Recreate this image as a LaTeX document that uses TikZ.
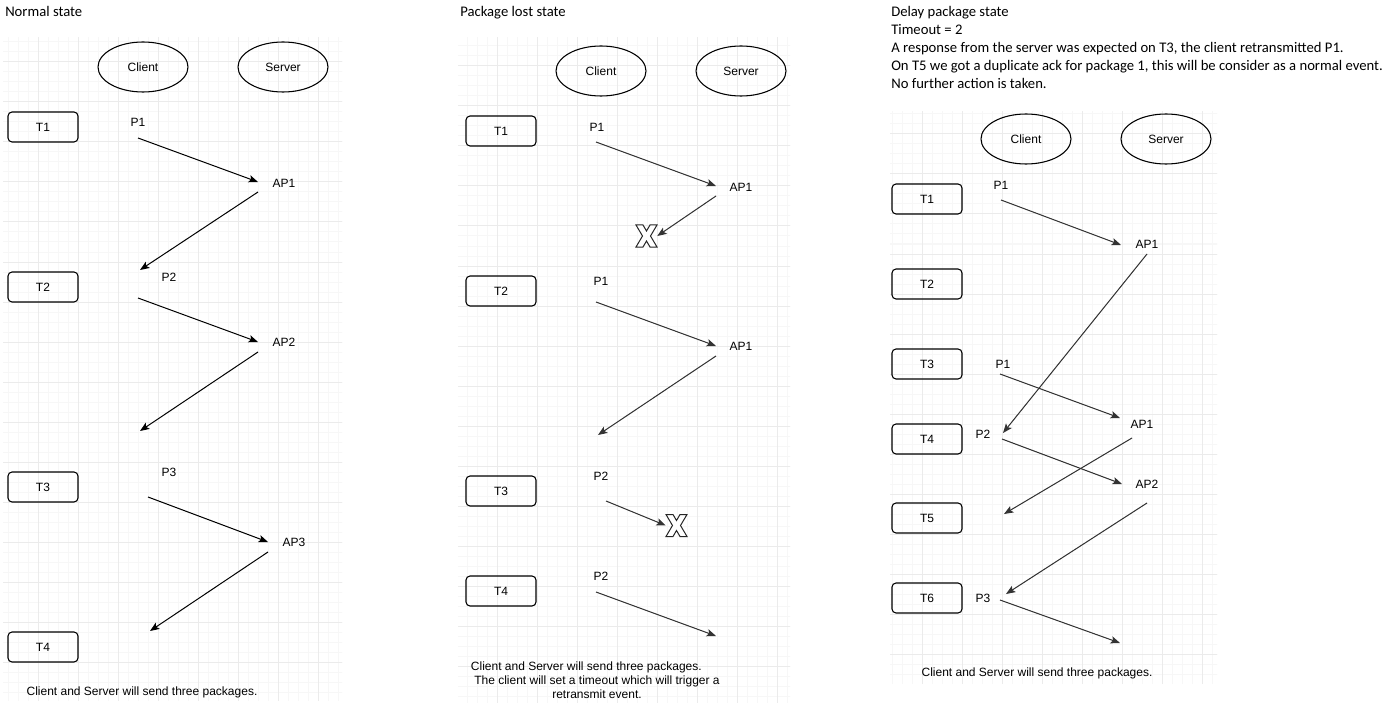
\documentclass[tikz,border=0pt]{standalone}
\usepackage{fontspec}
\setmainfont{Liberation Sans}
\newfontfamily\calibri{Carlito}
\usetikzlibrary{shapes.geometric,arrows.meta}

\newcommand{\labelfont}{\fontsize{9}{10.5}\selectfont}
\newcommand{\headfont}{\calibri\fontsize{11}{13.5}\selectfont}

% grid paper behind one panel: left, top, right, bottom, major x, major y
\newcommand{\gridpanel}[6]{%
  \begin{scope}
    \clip (#1,#2) rectangle (#3,#4);
    \begin{scope}[shift={(#5,#6)}]
      \draw[minorgrid] (-50,720) grid (400,-50);
      \draw[majorgrid] (-50,720) grid (400,-50);
    \end{scope}
  \end{scope}}

\tikzset{
  minorgrid/.style={step=7.5pt, draw=black!3, line width=0.75pt},
  majorgrid/.style={step=30pt, draw=black!8, line width=0.75pt},
  peer/.style={draw, ellipse, line width=0.8pt, minimum width=67.5pt, minimum height=37.5pt, font=\labelfont},
  timebox/.style={draw, rectangle, rounded corners=3pt, line width=0.8pt, minimum width=52.5pt, minimum height=22.5pt, font=\labelfont},
  pkt/.style={font=\labelfont, inner sep=0pt},
  msg/.style={line width=0.75pt, -{Stealth[length=7pt, width=5.5pt, inset=1.5pt]}},
  softmsg/.style={msg, draw=black!80, fill=black!80},
  heading/.style={font=\headfont, inner sep=0pt, anchor=base west},
  remark/.style={font=\labelfont, align=center, inner sep=0pt},
  lost/.style={inner sep=0pt, minimum width=15.75pt, minimum height=16.5pt},
  lostx/.pic={\draw[fill=white, draw=black!85, line width=0.75pt] (-10.5,-11) -- (-3.5,-11) -- (0,-5) -- (3.5,-11) -- (10.5,-11) -- (4,0) -- (10.5,11) -- (3.5,11) -- (0,5) -- (-3.5,11) -- (-10.5,11) -- (-4,0) -- cycle;}
}

\begin{document}
\begin{tikzpicture}[x=0.75pt, y=-0.75pt]
\fill[white] (0,0) rectangle (1389,706);

\gridpanel{3}{38}{342}{700}{38}{62}
\gridpanel{458}{38}{790}{702}{497}{66}
\gridpanel{890}{112}{1217}{683}{922}{134}

% Normal state
\node[heading] (nhead) at (5,17) {Normal state};
\node[peer] (nclient) at (143,67) {Client};
\node[peer] (nserver) at (283,67) {Server};
\node[timebox] (nt1) at (43,127) {T1};
\node[timebox] (nt2) at (43,287) {T2};
\node[timebox] (nt3) at (43,487) {T3};
\node[timebox] (nt4) at (43,647) {T4};
\node[pkt] (np1) at (138,122) {P1};
\node[pkt] (nap1) at (284,183) {AP1};
\node[pkt] (np2) at (169,277) {P2};
\node[pkt] (nap2) at (284,342) {AP2};
\node[pkt] (np3) at (169,472) {P3};
\node[pkt] (nap3) at (294,542) {AP3};
\node[remark] (nnote) at (142,692) {Client and Server will send three packages.};

\coordinate (nc1) at (138,138); \coordinate (ns1) at (258,182);
\coordinate (ns2) at (258,192); \coordinate (nc2) at (140,270);
\coordinate (nc3) at (138,298); \coordinate (ns3) at (258,342);
\coordinate (ns4) at (258,352); \coordinate (nc4) at (140,431);
\coordinate (nc5) at (148,497); \coordinate (ns5) at (268,542);
\coordinate (ns6) at (268,552); \coordinate (nc6) at (150,631);
\draw[msg] (nc1) -- (ns1);
\draw[msg] (ns2) -- (nc2);
\draw[msg] (nc3) -- (ns3);
\draw[msg] (ns4) -- (nc4);
\draw[msg] (nc5) -- (ns5);
\draw[msg] (ns6) -- (nc6);

% Package lost state
\node[heading] (lhead) at (460,17) {Package lost state};
\node[peer] (lclient) at (601,71) {Client};
\node[peer] (lserver) at (741,71) {Server};
\node[timebox] (lt1) at (501,131) {T1};
\node[timebox] (lt2) at (501,291) {T2};
\node[timebox] (lt3) at (501,491) {T3};
\node[timebox] (lt4) at (501,591) {T4};
\node[pkt] (lp1) at (597,127) {P1};
\node[pkt] (lap1) at (741,187) {AP1};
\node[pkt] (lp1b) at (601,281) {P1};
\node[pkt] (lap1b) at (741,346) {AP1};
\node[pkt] (lp2) at (601,476) {P2};
\node[pkt] (lp2b) at (601,576) {P2};
\node[lost] (lx1) at (646.5,236) {};
\pic at (lx1) {lostx};
\node[lost] (lx2) at (676.5,525.5) {};
\pic at (lx2) {lostx};
\node[remark] (lnote) at (597,680) {Client and Server will send three packages.\hspace*{16pt}\\The client will set a timeout which will trigger a\\retransmit event.};

\coordinate (lc1) at (596,142); \coordinate (ls1) at (716,186);
\coordinate (ls2) at (716,196);
\coordinate (lc3) at (596,302); \coordinate (ls3) at (716,346);
\coordinate (ls4) at (716,356); \coordinate (lc4) at (598,435);
\coordinate (lc5) at (606,501);
\coordinate (lc6) at (596,592); \coordinate (ls6) at (716,636);
\draw[softmsg] (lc1) -- (ls1);
\draw[softmsg] (ls2) -- (lx1.east);
\draw[softmsg] (lc3) -- (ls3);
\draw[softmsg] (ls4) -- (lc4);
\draw[softmsg] (lc5) -- (lx2.west);
\draw[softmsg] (lc6) -- (ls6);

% Delay package state
\node[heading, anchor=north west, align=left] (dhead) at (891,6) {Delay package state\\Timeout = 2\\A response from the server was expected on T3, the client retransmitted P1.\\On T5 we got a duplicate ack for package 1, this will be consider as a normal event.\\No further action is taken.};
\node[peer] (dclient) at (1026,139) {Client};
\node[peer] (dserver) at (1166,139) {Server};
\node[timebox] (dt1) at (927,199) {T1};
\node[timebox] (dt2) at (927,284) {T2};
\node[timebox] (dt3) at (927,364) {T3};
\node[timebox] (dt4) at (927,439) {T4};
\node[timebox] (dt5) at (927,518) {T5};
\node[timebox] (dt6) at (927,598) {T6};
\node[pkt] (dp1) at (1001,185) {P1};
\node[pkt] (dap1) at (1147,244) {AP1};
\node[pkt] (dp1b) at (1003,364) {P1};
\node[pkt] (dap1b) at (1142,424) {AP1};
\node[pkt] (dp2) at (983,434) {P2};
\node[pkt] (dap2) at (1147,484) {AP2};
\node[pkt] (dp3) at (983,598) {P3};
\node[remark] (dnote) at (1037,673) {Client and Server will send three packages.};

\coordinate (dc1) at (1001,200); \coordinate (ds1) at (1121,245);
\coordinate (ds2) at (1147,254); \coordinate (dc2) at (1003,433);
\coordinate (dc3) at (1000,374); \coordinate (ds3) at (1120,418);
\coordinate (dc4) at (1002,439); \coordinate (ds4) at (1122,484);
\coordinate (ds5) at (1132,438); \coordinate (dc5) at (1004,514);
\coordinate (ds6) at (1147,503); \coordinate (dc6) at (1006,594);
\coordinate (dc7) at (1000,600); \coordinate (ds7) at (1120,643);
\draw[softmsg] (dc1) -- (ds1);
\draw[softmsg] (ds2) -- (dc2);
\draw[softmsg] (dc3) -- (ds3);
\draw[softmsg] (dc4) -- (ds4);
\draw[softmsg] (ds5) -- (dc5);
\draw[softmsg] (ds6) -- (dc6);
\draw[softmsg] (dc7) -- (ds7);
\end{tikzpicture}
\end{document}
